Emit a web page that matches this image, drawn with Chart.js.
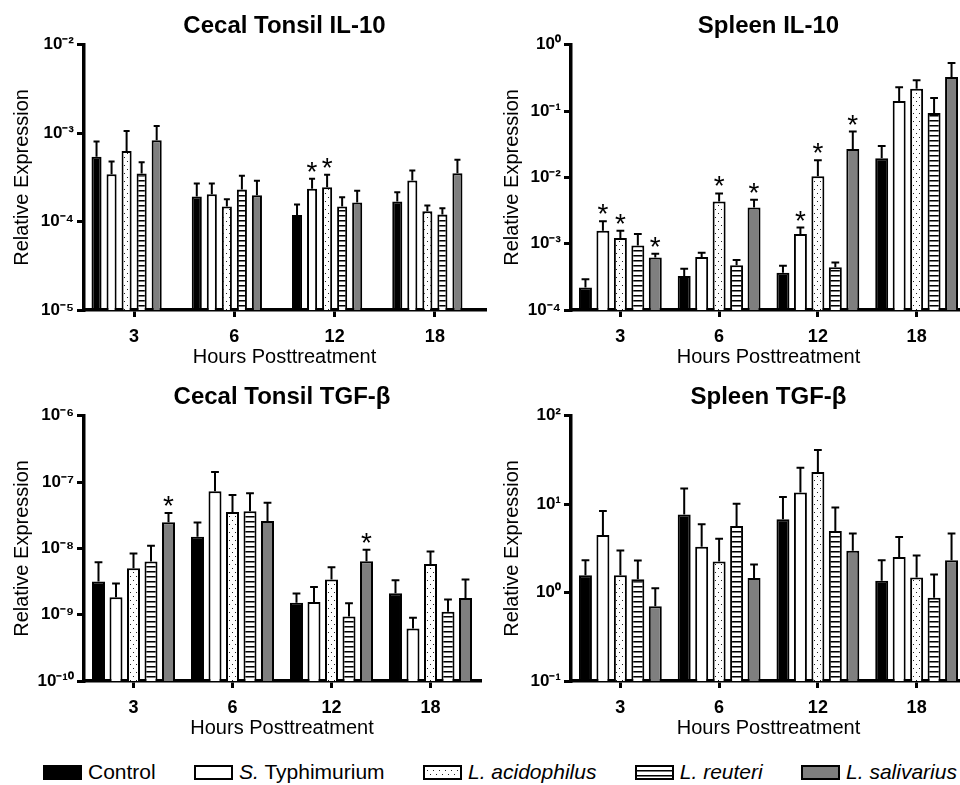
<!DOCTYPE html>
<html>
<head>
<meta charset="utf-8">
<script src="https://cdn.jsdelivr.net/npm/chart.js@4.4.0/dist/chart.umd.min.js"></script>
<style>
  html, body { margin: 0; padding: 0; background: #fff; overflow: hidden; }
  body { width: 960px; height: 785px; position: relative; font-family: 'Liberation Sans', Arial, sans-serif; }
  canvas.panel { position: absolute; }
  #legend { position: absolute; left: 43px; top: 760px; width: 914px; height: 24px;
            display: flex; justify-content: space-between; align-items: center; font-size: 21px; color: #000; }
  .item { display: flex; align-items: center; white-space: nowrap; }
  .item canvas { margin-right: 6px; }
</style>
</head>
<body>
<canvas id="c1" class="panel" width="490" height="370" style="left:0;top:0"></canvas>
<canvas id="c2" class="panel" width="490" height="370" style="left:480px;top:0"></canvas>
<canvas id="c3" class="panel" width="490" height="370" style="left:0;top:371px"></canvas>
<canvas id="c4" class="panel" width="490" height="370" style="left:480px;top:371px"></canvas>
<div id="legend"></div>
<script>
// categories (hours) and treatment groups
const hours = ['3', '6', '12', '18'];
const groupNames = ['Control', 'S. Typhimurium', 'L. acidophilus', 'L. reuteri', 'L. salivarius'];
const legendLabels = ['Control', '<i>S.</i> Typhimurium', '<i>L. acidophilus</i>', '<i>L. reuteri</i>', '<i>L. salivarius</i>'];

// rows = groups, columns = hours. Err = top of the error bar, Sig = asterisk
// Cecal Tonsil IL-10
const ctIl10Mean = [
  [5.4e-4, 1.92e-4, 1.19e-4, 1.69e-4],
  [3.44e-4, 2.04e-4, 2.35e-4, 2.92e-4],
  [6.3e-4, 1.48e-4, 2.45e-4, 1.31e-4],
  [3.5e-4, 2.3e-4, 1.48e-4, 1.2e-4],
  [8.3e-4, 1.99e-4, 1.64e-4, 3.53e-4]
];
const ctIl10Err = [
  [8.05e-4, 2.7e-4, 1.56e-4, 2.15e-4],
  [4.8e-4, 2.7e-4, 3.05e-4, 3.78e-4],
  [1.06e-3, 1.79e-4, 3.38e-4, 1.52e-4],
  [4.7e-4, 3.3e-4, 1.89e-4, 1.42e-4],
  [1.21e-3, 2.9e-4, 2.24e-4, 5.0e-4]
];
const ctIl10Sig = [[0, 0, 0, 0], [0, 0, 1, 0], [0, 0, 1, 0], [0, 0, 0, 0], [0, 0, 0, 0]];
const ctIl10Ticks = [1e-5, 1e-4, 1e-3, 1e-2];

// Spleen IL-10
const spIl10Mean = [
  [2.18e-4, 3.27e-4, 3.64e-4, 1.94e-2],
  [1.57e-3, 6.28e-4, 1.4e-3, 0.142],
  [1.22e-3, 4.33e-3, 1.04e-2, 0.218],
  [9.4e-4, 4.75e-4, 4.43e-4, 9.33e-2],
  [6.2e-4, 3.51e-3, 2.68e-2, 0.327]
];
const spIl10Err = [
  [2.92e-4, 4.18e-4, 4.64e-4, 2.98e-2],
  [2.18e-3, 7.3e-4, 1.75e-3, 0.229],
  [1.57e-3, 5.72e-3, 1.81e-2, 0.292],
  [1.4e-3, 5.66e-4, 5.2e-4, 0.157],
  [7.05e-4, 4.6e-3, 4.92e-2, 0.533]
];
const spIl10Sig = [[0, 0, 0, 0], [1, 0, 1, 0], [1, 1, 1, 0], [0, 0, 0, 0], [1, 1, 1, 0]];
const spIl10Ticks = [1e-4, 1e-3, 1e-2, 1e-1, 1];

// Cecal Tonsil TGF-beta
const ctTgfMean = [
  [3.16e-9, 1.5e-8, 1.52e-9, 2.1e-9],
  [1.83e-9, 7.3e-8, 1.56e-9, 6.2e-10],
  [5.03e-9, 3.55e-8, 3.39e-9, 5.8e-9],
  [6.35e-9, 3.63e-8, 9.4e-10, 1.11e-9],
  [2.48e-8, 2.6e-8, 6.42e-9, 1.79e-9]
];
const ctTgfErr = [
  [6.2e-9, 2.45e-8, 2.08e-9, 3.3e-9],
  [2.95e-9, 1.42e-7, 2.62e-9, 9.0e-10],
  [8.4e-9, 6.4e-8, 5.2e-9, 9.0e-9],
  [1.1e-8, 6.8e-8, 1.49e-9, 1.69e-9],
  [3.43e-8, 4.9e-8, 9.55e-9, 3.39e-9]
];
const ctTgfSig = [[0, 0, 0, 0], [0, 0, 0, 0], [0, 0, 0, 0], [0, 0, 0, 0], [1, 0, 1, 0]];
const ctTgfTicks = [1e-10, 1e-9, 1e-8, 1e-7, 1e-6];

// Spleen TGF-beta
const spTgfMean = [
  [1.57, 7.64, 6.76, 1.36],
  [4.48, 3.3, 13.6, 2.52],
  [1.57, 2.25, 23.1, 1.48],
  [1.42, 5.66, 4.98, 0.877],
  [0.70, 1.46, 2.98, 2.33]
];
const spTgfErr = [
  [2.33, 15.1, 12.1, 2.33],
  [8.4, 5.93, 25.9, 4.25],
  [3.0, 4.07, 41.1, 2.63],
  [2.31, 10.1, 9.17, 1.6],
  [1.12, 2.08, 4.65, 4.65]
];
const spTgfSig = [[0, 0, 0, 0], [0, 0, 0, 0], [0, 0, 0, 0], [0, 0, 0, 0], [0, 0, 0, 0]];
const spTgfTicks = [0.1, 1, 10, 100];

Chart.defaults.font.family = "'Liberation Sans', Arial, sans-serif";
Chart.defaults.color = '#000';

// fills: solid black, white, dotted, horizontal stripes, grey
function makePattern(kind) {
  const c = document.createElement('canvas');
  const g = c.getContext('2d');
  if (kind === 'dots') {
    c.width = 6; c.height = 8;
    g.fillStyle = '#fff'; g.fillRect(0, 0, 6, 8);
    g.fillStyle = '#222';
    g.fillRect(1, 1, 1, 1);
    g.fillRect(4, 5, 1, 1);
  } else {
    c.width = 4; c.height = 5;
    g.fillStyle = '#fff'; g.fillRect(0, 0, 4, 5);
    g.fillStyle = '#000'; g.fillRect(0, 0, 4, 1);
    g.fillStyle = '#777'; g.fillRect(0, 1, 4, 1);
  }
  return g.createPattern(c, 'repeat');
}
const fills = ['#000', '#fff', makePattern('dots'), makePattern('stripes'), '#7f7f7f'];

const supMap = { '-': '\u207B', '0': '\u2070', '1': '\u00B9', '2': '\u00B2', '3': '\u00B3',
  '4': '\u2074', '5': '\u2075', '6': '\u2076', '7': '\u2077', '8': '\u2078', '9': '\u2079' };
function expLabel(v) {
  const e = String(Math.round(Math.log10(v)));
  return '10' + e.split('').map(ch => supMap[ch]).join('');
}

// error bars + significance asterisks, positioned through the y scale
const errorBars = {
  id: 'errorBars',
  afterDatasetsDraw(chart) {
    const ctx = chart.ctx;
    const yScale = chart.scales.y;
    chart.data.datasets.forEach((ds, i) => {
      if (!ds.errTop) return;
      chart.getDatasetMeta(i).data.forEach((bar, j) => {
        const v = ds.errTop[j];
        if (v == null) return;
        const yTop = yScale.getPixelForValue(v);
        const half = bar.width * 0.3;
        ctx.save();
        ctx.strokeStyle = '#000';
        ctx.lineWidth = 2;
        ctx.beginPath();
        ctx.moveTo(bar.x, bar.y);
        ctx.lineTo(bar.x, yTop);
        ctx.moveTo(bar.x - half, yTop);
        ctx.lineTo(bar.x + half, yTop);
        ctx.stroke();
        if (ds.sig && ds.sig[j]) {
          ctx.fillStyle = '#000';
          ctx.font = "28px 'Liberation Sans', Arial, sans-serif";
          ctx.textAlign = 'center';
          ctx.textBaseline = 'alphabetic';
          ctx.fillText('*', bar.x, yTop + 2);
        }
        ctx.restore();
      });
    });
  }
};

function buildPanel(id, title, mean, err, sig, ticks, o) {
  const datasets = mean.map((row, k) => ({
    label: groupNames[k],
    data: row,
    errTop: err[k],
    sig: sig[k],
    backgroundColor: fills[k],
    borderColor: '#000',
    borderWidth: 2,
    barPercentage: o.barPct,
    categoryPercentage: o.catPct
  }));
  if (o.spacer) {
    // empty column after the five groups (Prism layout in this panel)
    datasets.push({ label: '', data: [null, null, null, null], barPercentage: o.barPct, categoryPercentage: o.catPct });
  }
  return new Chart(document.getElementById(id), {
    type: 'bar',
    data: { labels: hours, datasets: datasets },
    plugins: [errorBars],
    options: {
      responsive: false,
      animation: false,
      layout: { padding: { left: o.padLeft, right: o.padRight, top: 0, bottom: 1 } },
      plugins: {
        legend: { display: false },
        tooltip: { enabled: false },
        title: {
          display: true, text: title, fullSize: false, color: '#000',
          font: { size: 24, weight: 'bold' }, padding: { top: 12, bottom: 4 }
        }
      },
      scales: {
        x: {
          offset: true,
          afterFit: s => { s.height = 59; },
          border: { display: true, color: '#000', width: 3.5 },
          grid: { display: true, drawOnChartArea: false, drawTicks: true, tickLength: 7, offset: false, color: '#000', lineWidth: 3 },
          ticks: { color: '#000', font: { size: 18, weight: 'bold' }, padding: 9, maxRotation: 0, autoSkip: false },
          title: { display: true, text: 'Hours Posttreatment', color: '#000', font: { size: 20 }, padding: { top: 0, bottom: 0 } }
        },
        y: {
          type: 'logarithmic',
          min: ticks[0],
          max: ticks[ticks.length - 1],
          afterBuildTicks: s => { s.ticks = ticks.map(v => ({ value: v })); },
          afterFit: s => { s.width = o.yWidth; },
          border: { display: true, color: '#000', width: 3.5 },
          grid: { display: true, drawOnChartArea: false, drawTicks: true, tickLength: 7, color: '#000', lineWidth: 3 },
          ticks: { color: '#000', font: { size: 17, weight: 'bold' }, padding: 3, callback: v => expLabel(v) },
          title: { display: true, text: 'Relative Expression', color: '#000', font: { size: 20 }, padding: { top: 10, bottom: 0 } }
        }
      }
    }
  });
}

const narrow = { padLeft: 0, padRight: 5, yWidth: 84, catPct: 0.9, barPct: 0.67, spacer: true };
buildPanel('c1', 'Cecal Tonsil IL-10', ctIl10Mean, ctIl10Err, ctIl10Sig, ctIl10Ticks, narrow);
buildPanel('c2', 'Spleen IL-10', spIl10Mean, spIl10Err, spIl10Sig, spIl10Ticks,
  { padLeft: 10, padRight: 4, yWidth: 81, catPct: 0.884, barPct: 0.743 });
buildPanel('c3', 'Cecal Tonsil TGF-\u03B2', ctTgfMean, ctTgfErr, ctTgfSig, ctTgfTicks,
  { padLeft: 0, padRight: 10, yWidth: 84, catPct: 0.884, barPct: 0.743 });
buildPanel('c4', 'Spleen TGF-\u03B2', spTgfMean, spTgfErr, spTgfSig, spTgfTicks,
  { padLeft: 10, padRight: 4, yWidth: 81, catPct: 0.884, barPct: 0.743 });

// shared legend below the panels
const legendEl = document.getElementById('legend');
legendLabels.forEach((txt, k) => {
  const item = document.createElement('div');
  item.className = 'item';
  const sw = document.createElement('canvas');
  sw.width = 39; sw.height = 15;
  const g = sw.getContext('2d');
  g.fillStyle = fills[k];
  g.fillRect(0, 0, 39, 15);
  g.strokeStyle = '#000';
  g.lineWidth = 2;
  g.strokeRect(1, 1, 37, 13);
  const label = document.createElement('span');
  label.innerHTML = txt;
  item.appendChild(sw);
  item.appendChild(label);
  legendEl.appendChild(item);
});
</script>
</body>
</html>
